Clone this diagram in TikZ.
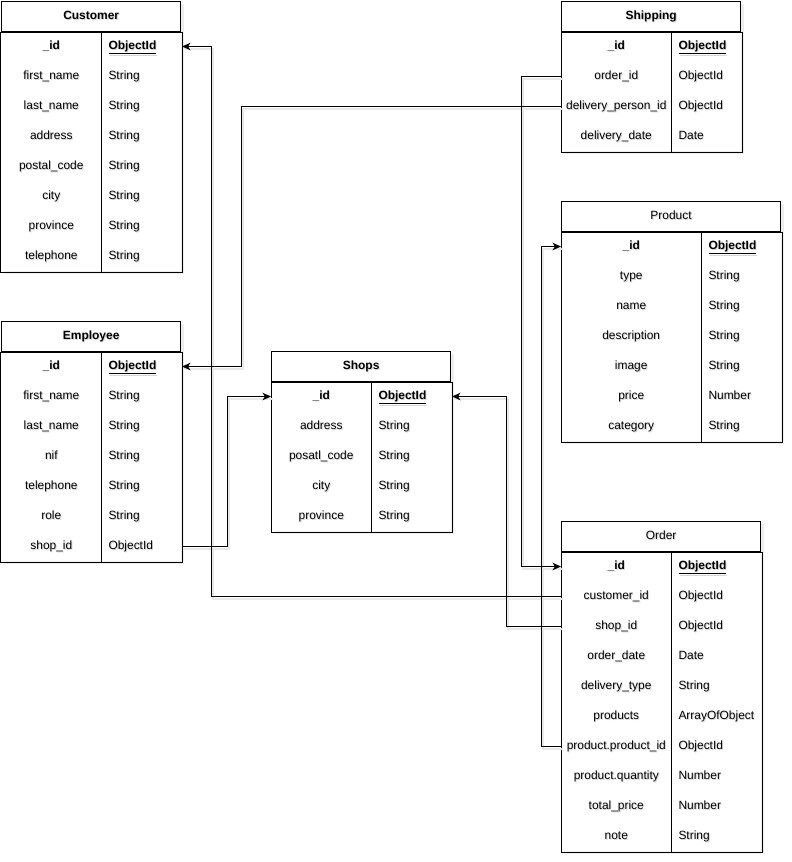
\documentclass[tikz,border=0pt]{standalone}
\usepackage{fontspec}
\setmainfont{Liberation Sans}
\usetikzlibrary{arrows.meta}

\tikzset{
  x=1bp, y=-1bp,
  every path/.style={line width=1bp},
  cellfont/.style={font=\fontsize{12}{14}\selectfont, text height=9pt, text depth=3pt},
  hdr/.style={draw, minimum height=30bp, inner sep=0pt, cellfont},
  namecell/.style={minimum height=30bp, inner sep=0pt, cellfont},
  typecell/.style={minimum height=30bp, inner xsep=7bp, inner ysep=0pt, align=left, cellfont},
  textshadow/.style={text=black!16},
  linkshadow/.style={draw=black!9, line width=2bp, transform canvas={shift={(1.5bp,-2bp)}}},
  conn/.style={draw=black, line width=1bp, -{Stealth[length=8.5bp,width=7.5bp,inset=2.5bp]}},
  boxshadow/.style={fill=black!7},
}

% #1 name, #2 left, #3 top, #4 name column width, #5 type column width,
% #6 row count, #7 title, #8 rows as name/type pairs
\newcommand\ertable[8]{%
  \pgfmathsetmacro\typew{#5-14}%
  \fill[boxshadow] (#2+3,#3+3) rectangle ++(#4+#5,30+30*#6);
  \fill[white] (#2,#3) rectangle ++(#4+#5,30+30*#6);
  \node[hdr, draw=none, textshadow, minimum width=#4+#5, anchor=north west] (#1-hs) at (#2+1,#3+1.5) {#7};
  \node[hdr, minimum width=#4+#5, anchor=north west] (#1-h) at (#2,#3) {#7};
  \foreach [count=\i] \n/\t in {#8}{
    \node[namecell, textshadow, minimum width=#4, anchor=north west] (#1-\i ns) at (#2+1,#3+30*\i+1.5) {\n};
    \node[typecell, textshadow, text width=\typew bp, anchor=north west] (#1-\i ts) at (#2+#4+1,#3+30*\i+1.5) {\t};
    \node[namecell, minimum width=#4, anchor=north west] (#1-\i n) at (#2,#3+30*\i) {\n};
    \node[typecell, text width=\typew bp, anchor=north west] (#1-\i t) at (#2+#4,#3+30*\i) {\t};
  }
  \draw (#1-h.south west) rectangle (#1-#6t.south east);
  \draw (#1-1n.north east) -- (#1-#6n.south east);
}

\newcommand\pk{\textbf{\underline{ObjectId}}}
\newcommand\pkname{\textbf{\_id}}

\begin{document}
\begin{tikzpicture}
\useasboundingbox (-0.5,-0.5) rectangle (791.5,861.5);

\ertable{cust}{0.5}{0.5}{100}{80}{8}{\textbf{Customer}}{%
  \pkname/\pk, first\_name/String, last\_name/String, address/String,
  postal\_code/String, city/String, province/String, telephone/String}

\ertable{emp}{0.5}{320.5}{100}{80}{7}{\textbf{Employee}}{%
  \pkname/\pk, first\_name/String, last\_name/String, nif/String,
  telephone/String, role/String, shop\_id/ObjectId}

\ertable{shops}{270.5}{350.5}{100}{80}{5}{\textbf{Shops}}{%
  \pkname/\pk, address/String, posatl\_code/String, city/String, province/String}

\ertable{ship}{560.5}{0.5}{110}{70}{4}{\textbf{Shipping}}{%
  \pkname/\pk, order\_id/ObjectId, delivery\_person\_id/ObjectId, delivery\_date/Date}

\ertable{prod}{560.5}{200.5}{140}{80}{7}{Product}{%
  \pkname/\pk, type/String, name/String, description/String,
  image/String, price/Number, category/String}

\ertable{order}{560.5}{520.5}{110}{90}{10}{Order}{%
  \pkname/\pk, customer\_id/ObjectId, shop\_id/ObjectId, order\_date/Date,
  delivery\_type/String, products/ArrayOfObject, product.product\_id/ObjectId,
  product.quantity/Number, total\_price/Number, note/String}

% soft shadows under the reference lines
\draw[linkshadow] (order-2n.west) -- ++(-350,0) |- (cust-1t.east);
\draw[linkshadow] (ship-3n.west) -- ++(-320,0) |- (emp-1t.east);
\draw[linkshadow] (emp-7t.east) -- ++(45,0) |- (shops-1n.west);
\draw[linkshadow] (order-3n.west) -- ++(-55,0) |- (shops-1t.east);
\draw[linkshadow] (ship-2n.west) -- ++(-40,0) |- (order-1n.west);
\draw[linkshadow] (order-7n.west) -- ++(-20,0) |- (prod-1n.west);

% references between collections
\draw[conn] (order-2n.west) -- ++(-350,0) |- (cust-1t.east);
\draw[conn] (ship-3n.west) -- ++(-320,0) |- (emp-1t.east);
\draw[conn] (emp-7t.east) -- ++(45,0) |- (shops-1n.west);
\draw[conn] (order-3n.west) -- ++(-55,0) |- (shops-1t.east);
\draw[conn] (ship-2n.west) -- ++(-40,0) |- (order-1n.west);
\draw[conn] (order-7n.west) -- ++(-20,0) |- (prod-1n.west);
\end{tikzpicture}
\end{document}
